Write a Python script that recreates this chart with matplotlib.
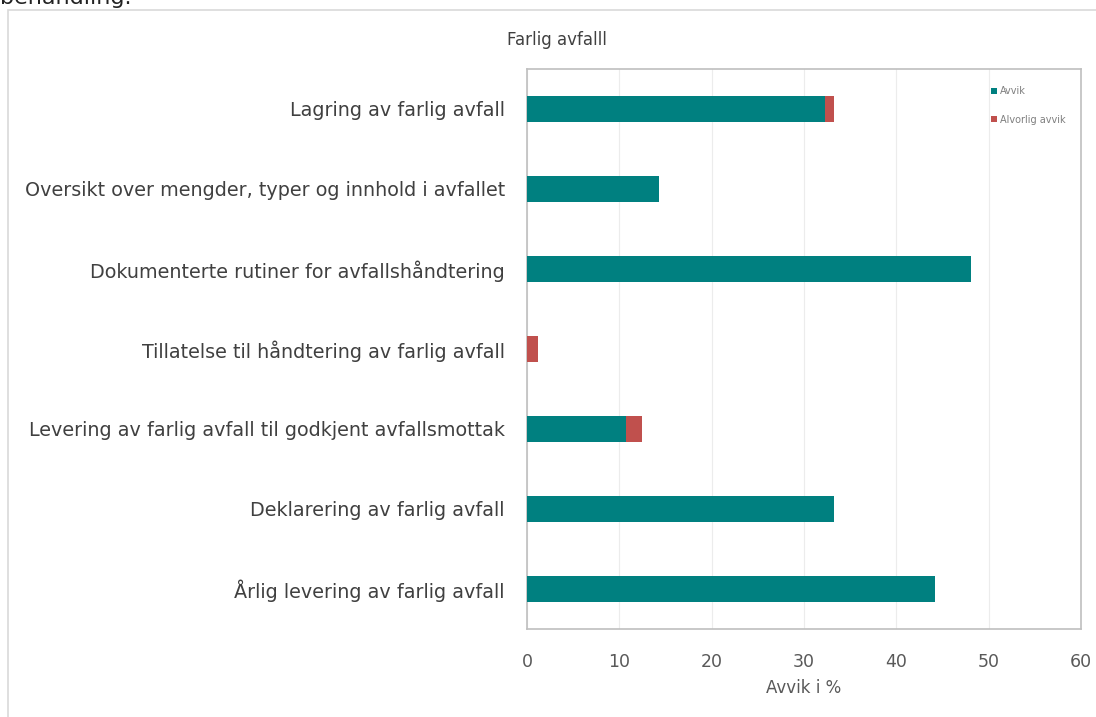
import matplotlib.pyplot as plt
from matplotlib.patches import Rectangle

# data
kategorier = [
    'Lagring av farlig avfall',
    'Oversikt over mengder, typer og innhold i avfallet',
    'Dokumenterte rutiner for avfallshåndtering',
    'Tillatelse til håndtering av farlig avfall',
    'Levering av farlig avfall til godkjent avfallsmottak',
    'Deklarering av farlig avfall',
    'Årlig levering av farlig avfall',
]
avvik = [32.3, 14.3, 48.1, 0.0, 10.7, 33.3, 44.2]
alvorlig_avvik = [1.0, 0.0, 0.0, 1.2, 1.8, 0.0, 0.0]
x_ticks = [0, 10, 20, 30, 40, 50, 60]

teal = '#008080'
rod = '#c0504d'
grey_txt = '#595959'

plt.rcParams['font.family'] = ['DejaVu Sans']

fig = plt.figure(figsize=(10.96, 7.17), dpi=100)
fig.patch.set_facecolor('white')

# ramme rundt diagrammet
fig.patches.append(Rectangle((8 / 1096, -0.05), 1.2, 1 - 10 / 717 + 0.05,
                             transform=fig.transFigure, fill=False,
                             edgecolor='#d9d9d9', lw=1.2))
# avkuttet tekst fra dokumentet over
fig.text(0.0, 1 - 4 / 717, 'behandling.', fontsize=16, color='#222222',
         ha='left', va='baseline')

ax = fig.add_axes([527 / 1096, 88 / 717, 554 / 1096, 560 / 717])
y = list(range(len(kategorier)))
ax.barh(y, avvik, height=0.33, color=teal, label='Avvik', zorder=3)
ax.barh(y, alvorlig_avvik, left=avvik, height=0.33, color=rod,
        label='Alvorlig avvik', zorder=3)

ax.set_xlim(0, 60)
ax.set_ylim(len(kategorier) - 0.5, -0.5)
ax.set_xticks(x_ticks)
ax.set_yticks(y)
ax.set_yticklabels(kategorier, fontsize=13.8, color='#404040')
ax.tick_params(axis='x', length=0, pad=17, labelsize=12.5, labelcolor=grey_txt)
ax.tick_params(axis='y', length=0, pad=16)
ax.grid(axis='x', color='#ececec', lw=0.8, zorder=0)
for s in ax.spines.values():
    s.set_color('#bfbfbf')
    s.set_linewidth(1.2)

ax.set_xlabel('Avvik i %', fontsize=12, color=grey_txt, labelpad=6)

fig.text(557 / 1096, 1 - 40 / 717, 'Farlig avfalll', fontsize=12,
         color='#404040', ha='center', va='center')

leg = ax.legend(loc='upper left', bbox_to_anchor=(0.822, 0.985), frameon=False,
                fontsize=7, handlelength=0.6, handleheight=0.6,
                handletextpad=0.3, labelspacing=1.9)
for t in leg.get_texts():
    t.set_color('#7f7f7f')

fig.savefig('out.png', dpi=100)
